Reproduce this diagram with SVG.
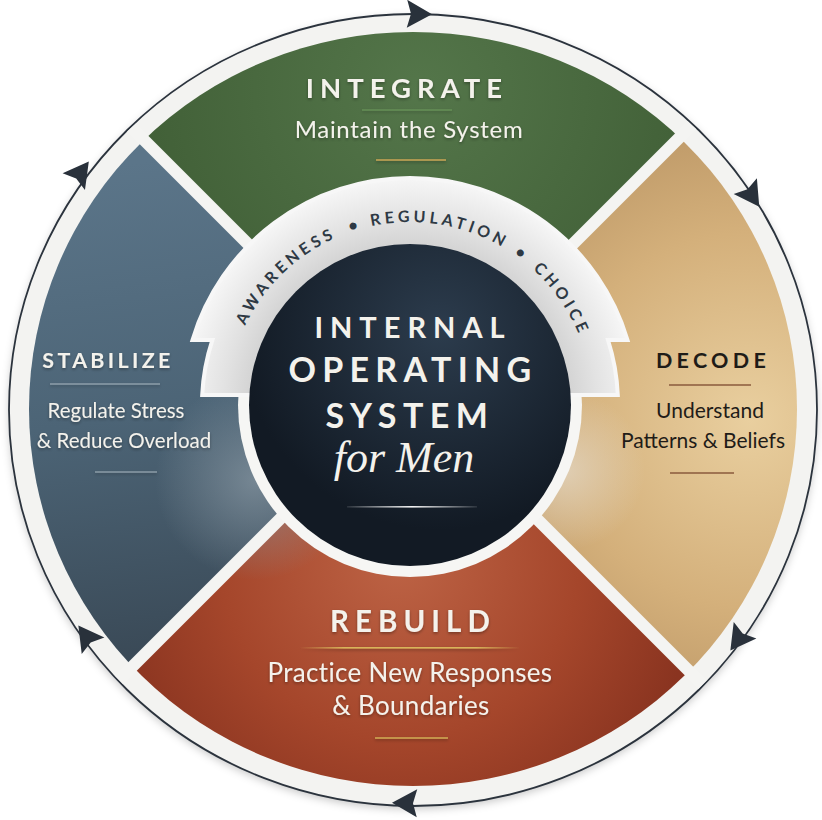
<svg xmlns="http://www.w3.org/2000/svg" width="822" height="820" viewBox="0 0 822 820">
<style>
  .sans { font-family: Lato, "Noto Sans", "Liberation Sans", sans-serif; }
  .title { font-family: Lato, "Noto Sans", "Liberation Sans", sans-serif; font-weight: 700; text-anchor: middle; }
  .sub { font-family: Lato, "Noto Sans", "Liberation Sans", sans-serif; font-weight: 400; text-anchor: middle; }
  .light { fill: #f4f2ec; }
  .darkt { fill: #1f1c18; }
  .arrow { fill: #29313b; }
  .arc { font-family: Lato, "Noto Sans", "Liberation Sans", sans-serif; font-size: 16px; font-weight: 700; fill: #2e3944; letter-spacing: 3.8px; }
</style>
<defs>
  <clipPath id="discClip"><ellipse cx="413" cy="409" rx="384" ry="377"/></clipPath>
  <clipPath id="ringClip"><ellipse cx="413" cy="410" rx="403" ry="395"/></clipPath>
  <radialGradient id="gGreen" gradientUnits="userSpaceOnUse" cx="420" cy="90" r="330">
    <stop offset="0" stop-color="#54764a"/>
    <stop offset="1" stop-color="#3e5c34"/>
  </radialGradient>
  <linearGradient id="gBlue" gradientUnits="userSpaceOnUse" x1="150" y1="160" x2="220" y2="660">
    <stop offset="0" stop-color="#5b7589"/>
    <stop offset="0.5" stop-color="#4c6476"/>
    <stop offset="1" stop-color="#394855"/>
  </linearGradient>
  <radialGradient id="gBlueHi" gradientUnits="userSpaceOnUse" cx="255" cy="480" r="100">
    <stop offset="0" stop-color="#8a99a4" stop-opacity="0.7"/>
    <stop offset="1" stop-color="#8a99a4" stop-opacity="0"/>
  </radialGradient>
  <radialGradient id="gTan" gradientUnits="userSpaceOnUse" cx="750" cy="420" r="340">
    <stop offset="0" stop-color="#e9cf9f"/>
    <stop offset="0.55" stop-color="#d4b07b"/>
    <stop offset="1" stop-color="#b79262"/>
  </radialGradient>
  <radialGradient id="gTanHi" gradientUnits="userSpaceOnUse" cx="565" cy="470" r="80">
    <stop offset="0" stop-color="#e3d8c6" stop-opacity="0.75"/>
    <stop offset="1" stop-color="#e3d8c6" stop-opacity="0"/>
  </radialGradient>
  <radialGradient id="gRed" gradientUnits="userSpaceOnUse" cx="400" cy="560" r="300">
    <stop offset="0" stop-color="#bd6345"/>
    <stop offset="0.6" stop-color="#a5462b"/>
    <stop offset="1" stop-color="#8a3420"/>
  </radialGradient>
  <radialGradient id="gDark" gradientUnits="userSpaceOnUse" cx="440" cy="330" r="200">
    <stop offset="0" stop-color="#2c3c4d"/>
    <stop offset="1" stop-color="#121a24"/>
  </radialGradient>
  <radialGradient id="gBand" gradientUnits="userSpaceOnUse" cx="410" cy="405" r="227">
    <stop offset="0.7" stop-color="#d3d3d3"/>
    <stop offset="0.82" stop-color="#e2e2e2"/>
    <stop offset="1" stop-color="#f6f6f6"/>
  </radialGradient>
  <linearGradient id="gGoldLine" x1="0" y1="0" x2="1" y2="0">
    <stop offset="0" stop-color="#d9b45a" stop-opacity="0"/>
    <stop offset="0.2" stop-color="#d9b45a"/>
    <stop offset="0.8" stop-color="#d9b45a"/>
    <stop offset="1" stop-color="#d9b45a" stop-opacity="0"/>
  </linearGradient>
  <linearGradient id="gWhiteLine" x1="0" y1="0" x2="1" y2="0">
    <stop offset="0" stop-color="#ffffff" stop-opacity="0.1"/>
    <stop offset="0.5" stop-color="#ffffff" stop-opacity="0.95"/>
    <stop offset="1" stop-color="#ffffff" stop-opacity="0.1"/>
  </linearGradient>
  <filter id="ringShadow" x="-5%" y="-5%" width="110%" height="112%">
    <feDropShadow dx="0" dy="3" stdDeviation="4" flood-color="#000" flood-opacity="0.22"/>
  </filter>
  <filter id="tShadow" x="-10%" y="-30%" width="120%" height="160%">
    <feDropShadow dx="0" dy="1.5" stdDeviation="1.5" flood-color="#000" flood-opacity="0.35"/>
  </filter>
  <path id="arcPath" d="M 227,405 A 183 183 0 0 1 593,405"/>
  <path id="arrowHead" d="M 13,0 L -12,-14 L -8,0 L -12,14 Z"/>
</defs>

<g id="outer-ring">
  <ellipse cx="413" cy="410" rx="404" ry="396" fill="#f3f3f1" filter="url(#ringShadow)"/>
  <ellipse cx="413" cy="410" rx="404" ry="396" fill="none" stroke="#2b333d" stroke-width="1.8"/>
</g>

<g id="segments" clip-path="url(#discClip)">
  <g id="integrate-bg"><polygon points="410,405 -5,-9 827,-10" fill="url(#gGreen)"/></g>
  <g id="decode-bg"><polygon points="413,400 827,-10 827,809" fill="url(#gTan)"/><circle cx="565" cy="470" r="80" fill="url(#gTanHi)"/></g>
  <g id="rebuild-bg"><polygon points="410,398 827,809 -5,804" fill="url(#gRed)"/></g>
  <g id="stabilize-bg"><polygon points="405,398 -5,804 -5,-9" fill="url(#gBlue)"/><circle cx="255" cy="480" r="100" fill="url(#gBlueHi)"/></g>
</g>

<g id="connectors">
  <g id="gaps" stroke="#f4f4f2" stroke-width="12" stroke-linecap="butt" clip-path="url(#ringClip)">
    <line x1="250" y1="246" x2="96" y2="92"/>
    <line x1="572" y1="245" x2="726" y2="91"/>
    <line x1="535" y1="517" x2="712" y2="694"/>
    <line x1="285" y1="514" x2="105" y2="694"/>
  </g>
  <g id="cycle-arrows">
    <use href="#arrowHead" class="arrow" transform="translate(419,14) rotate(1)"/>
    <use href="#arrowHead" class="arrow" transform="translate(752,196) rotate(56)"/>
    <use href="#arrowHead" class="arrow" transform="translate(738,640) rotate(126)"/>
    <use href="#arrowHead" class="arrow" transform="translate(405,803) rotate(181)"/>
    <use href="#arrowHead" class="arrow" transform="translate(86,636) rotate(234)"/>
    <use href="#arrowHead" class="arrow" transform="translate(81,172) rotate(-53)"/>
  </g>
</g>

<g id="core-ring">
  <circle cx="410" cy="405" r="172" fill="#f6f6f4"/>
  <path d="M 192.5,340 A 227 227 0 0 1 627.5,340 L 608,340 A 208 208 0 0 1 617.8,395 L 410,395 L 202.2,395 A 208 208 0 0 1 212.4,340 Z" fill="url(#gBand)" stroke="#f7f7f7" stroke-width="4" stroke-linejoin="miter"/>
  <text class="arc"><textPath href="#arcPath" startOffset="25.6%" text-anchor="middle">AWARENESS</textPath></text>
  <text class="arc"><textPath href="#arcPath" startOffset="40.5%" text-anchor="middle">•</textPath></text>
  <text class="arc"><textPath href="#arcPath" startOffset="55.3%" text-anchor="middle">REGULATION</textPath></text>
  <text class="arc"><textPath href="#arcPath" startOffset="70.3%" text-anchor="middle">•</textPath></text>
  <text class="arc"><textPath href="#arcPath" startOffset="80.6%" text-anchor="middle">CHOICE</textPath></text>
</g>

<g id="center">
  <circle cx="410" cy="405" r="161" fill="url(#gDark)"/>
  <text class="title light" x="413" y="338" font-size="29" font-weight="600" letter-spacing="7">INTERNAL</text>
  <text class="title light" x="413" y="382" font-size="34" letter-spacing="6.3">OPERATING</text>
  <text class="title light" x="410" y="428" font-size="34" letter-spacing="6.5">SYSTEM</text>
  <text x="404" y="472" font-family="'Liberation Serif', 'DejaVu Serif', serif" font-style="italic" font-size="44" text-anchor="middle" fill="#f4f2ec">for Men</text>
  <rect x="347" y="506" width="130" height="1.6" fill="url(#gWhiteLine)"/>
</g>

<g id="integrate" filter="url(#tShadow)">
  <text class="title light" x="407" y="98" font-size="27.5" letter-spacing="6">INTEGRATE</text>
  <line x1="362" y1="110" x2="452" y2="110" stroke="#6e9e5e" stroke-width="1.2"/>
  <text class="sub light" x="409" y="138" font-size="24" letter-spacing="0.7">Maintain the System</text>
  <line x1="376" y1="160" x2="446" y2="160" stroke="#c8a655" stroke-width="1.6"/>
</g>

<g id="stabilize" filter="url(#tShadow)">
  <text class="title light" x="108" y="368" font-size="21.5" letter-spacing="3.3">STABILIZE</text>
  <line x1="50" y1="384" x2="160" y2="384" stroke="#aab7c2" stroke-width="1.2"/>
  <text class="sub light" x="116" y="418" font-size="20.5">Regulate Stress</text>
  <text class="sub light" x="124" y="448" font-size="20.5">&amp; Reduce Overload</text>
  <line x1="95" y1="472" x2="157" y2="472" stroke="#aab7c2" stroke-width="1.2"/>
</g>

<g id="decode">
  <text class="title darkt" x="713" y="368" font-size="21.5" letter-spacing="4.3">DECODE</text>
  <line x1="669" y1="385" x2="751" y2="385" stroke="#8a5a3d" stroke-width="1.4"/>
  <text class="sub darkt" x="710" y="418" font-size="21">Understand</text>
  <text class="sub darkt" x="703" y="448" font-size="21">Patterns &amp; Beliefs</text>
  <line x1="670" y1="473" x2="734" y2="473" stroke="#8a5a3d" stroke-width="1.4"/>
</g>

<g id="rebuild" filter="url(#tShadow)">
  <text class="title light" x="413" y="632" font-size="29.5" letter-spacing="6">REBUILD</text>
  <rect x="300" y="647" width="220" height="1.6" fill="url(#gGoldLine)"/>
  <text class="sub light" x="410" y="682" font-size="26" letter-spacing="0.3">Practice New Responses</text>
  <text class="sub light" x="411" y="715" font-size="26" letter-spacing="0.3">&amp; Boundaries</text>
  <line x1="375" y1="738" x2="448" y2="738" stroke="#d1ad55" stroke-width="1.6"/>
</g>
</svg>
